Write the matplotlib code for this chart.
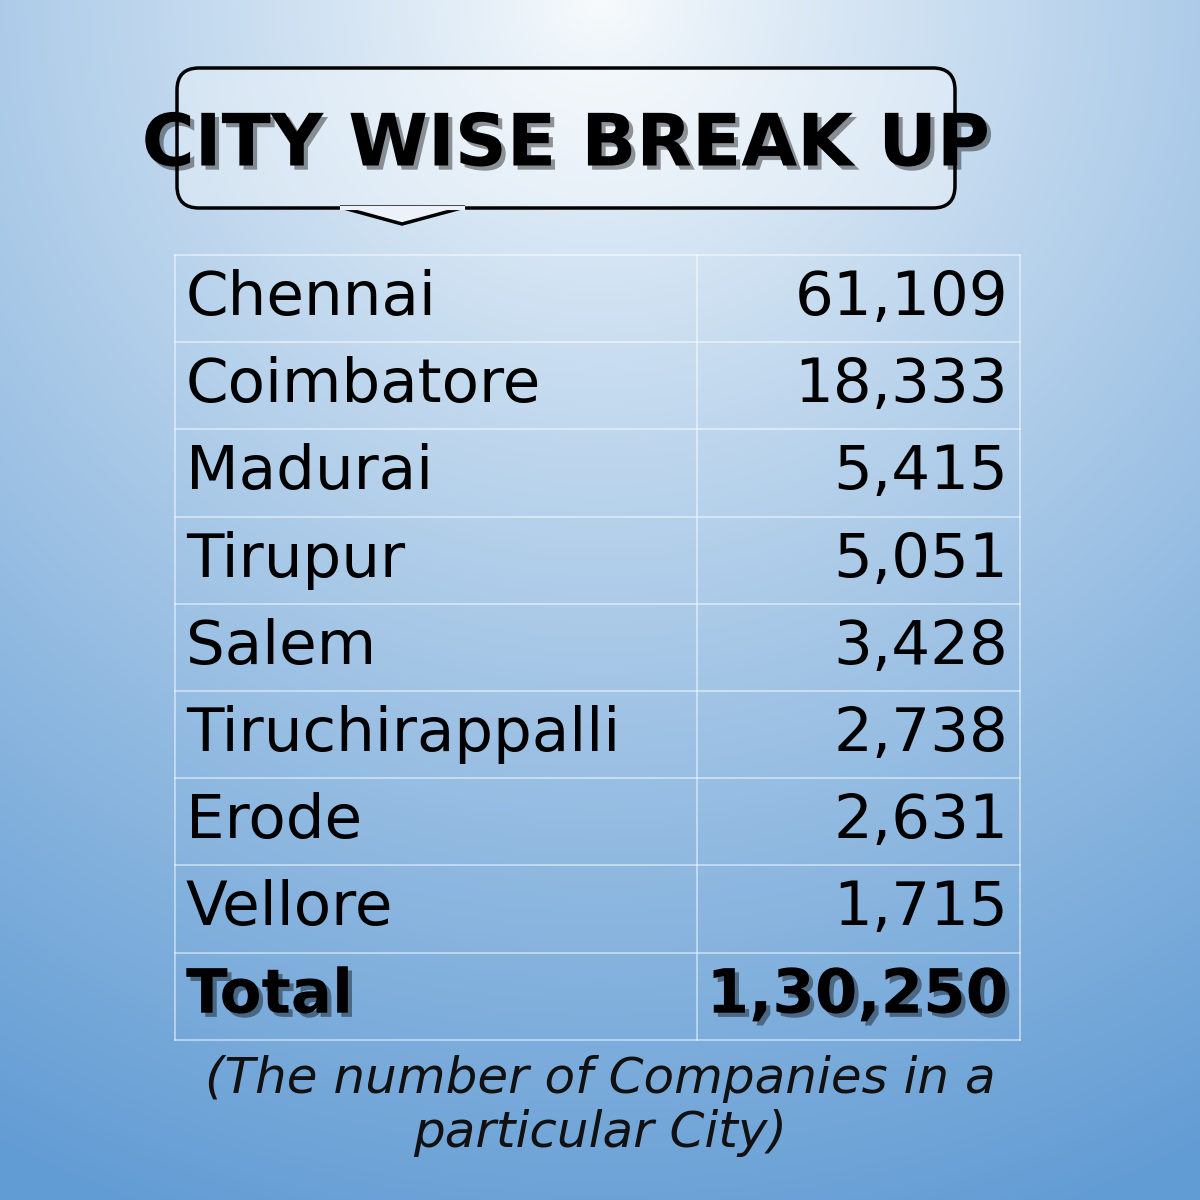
import matplotlib
matplotlib.use("Agg")
import matplotlib.pyplot as plt
import matplotlib.patheffects as pe
from matplotlib.patches import FancyBboxPatch, Polygon
import numpy as np

cities = ["Chennai", "Coimbatore", "Madurai", "Tirupur", "Salem",
          "Tiruchirappalli", "Erode", "Vellore"]
counts = ["61,109", "18,333", "5,415", "5,051", "3,428",
          "2,738", "2,631", "1,715"]
total_label = "Total"
total_value = "1,30,250"
title = "CITY WISE BREAK UP"
caption = "(The number of Companies in a\nparticular City)"

figure = plt.figure(figsize=(12, 12), dpi=100)
axes = figure.add_axes([0, 0, 1, 1])
axes.set_xlim(0, 1200)
axes.set_ylim(1200, 0)
axes.axis("off")

# Background gradient: light at top centre, blue towards bottom corners
yy, xx = np.mgrid[0:1200, 0:1200]
dist = np.sqrt(((xx - 600) / 1.0) ** 2 + (yy * 1.0) ** 2) / 1300
dist = np.clip(dist, 0, 1)
top = np.array([248, 251, 253]) / 255
bottom = np.array([98, 156, 212]) / 255
img = top + (bottom - top) * dist[..., None] ** 0.9
axes.imshow(img, extent=(0, 1200, 1200, 0), zorder=0)

# Title box with pointer
box = FancyBboxPatch((177, 68), 778, 140, boxstyle="round,pad=0,rounding_size=22",
                     facecolor=(1, 1, 1, 0.35), edgecolor="black", linewidth=2.5,
                     zorder=2)
axes.add_patch(box)
axes.add_patch(Polygon([[340, 207], [402, 224], [465, 207]], closed=True,
                       facecolor=(0.93, 0.95, 0.98), edgecolor="black",
                       linewidth=2.5, zorder=2))
axes.plot([342, 463], [207.5, 207.5], color=(0.93, 0.95, 0.98), lw=3, zorder=3)
axes.text(566, 146, title, ha="center", va="center", fontsize=52,
          fontweight="bold", family="DejaVu Sans", zorder=4,
          path_effects=[pe.withSimplePatchShadow(offset=(3, -3), alpha=0.4)])

# Table
left, mid, right = 175, 697, 1020
row_top, row_h = 255, 87.2
labels = cities + [total_label]
values = counts + [total_value]
n = len(labels)
grid = dict(color=(1, 1, 1, 0.55), lw=1.2, zorder=2)
for i in range(n + 1):
    axes.plot([left, right], [row_top + i * row_h] * 2, **grid)
for x in (left, mid, right):
    axes.plot([x, x], [row_top, row_top + n * row_h], **grid)
for i, (lab, val) in enumerate(zip(labels, values)):
    yc = row_top + (i + 0.5) * row_h
    bold = i == n - 1
    kw = dict(va="center", fontsize=44, family="DejaVu Sans", zorder=4,
              fontweight="bold" if bold else "normal")
    if bold:
        kw["path_effects"] = [pe.withSimplePatchShadow(offset=(3, -3), alpha=0.4)]
    axes.text(186, yc, lab, ha="left", **kw)
    axes.text(1008, yc, val, ha="right", **kw)

axes.text(600, 1106, caption, ha="center", va="center", fontsize=36,
          style="italic", family="DejaVu Sans", linespacing=1.15, zorder=4,
          color="#111111")

figure.savefig("out.png", dpi=100)
